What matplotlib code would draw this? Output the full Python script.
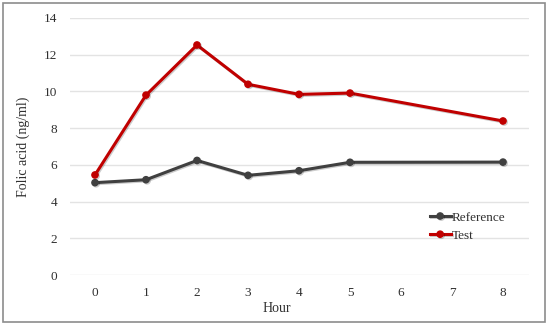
import matplotlib.pyplot as plt
import matplotlib.patheffects as pe
from matplotlib.patches import Rectangle

plt.rcParams['font.family'] = ['Liberation Serif', 'DejaVu Serif']

# Data
hours = [0, 1, 2, 3, 4, 5, 8]
reference = [5.03, 5.19, 6.24, 5.43, 5.68, 6.14, 6.15]
test = [5.45, 9.80, 12.53, 10.39, 9.84, 9.91, 8.39]
xticks = [0, 1, 2, 3, 4, 5, 6, 7, 8]
yticks = [0, 2, 4, 6, 8, 10, 12, 14]

fig = plt.figure(figsize=(5.5, 3.25), dpi=100)
ax = fig.add_axes([69.5 / 550, 50 / 325, 459 / 550, 257 / 325])

shadow = [pe.SimpleLineShadow(offset=(0.8, -0.8), alpha=0.2), pe.Normal()]
ax.plot(hours, reference, color='#404040', lw=2.2, marker='o', ms=4.5,
        label='Reference', path_effects=shadow, zorder=3)
ax.plot(hours, test, color='#C00000', lw=2.2, marker='o', ms=4.5,
        label='Test', path_effects=shadow, zorder=3)

ax.set_xlim(-0.5, 8.5)
ax.set_ylim(0, 14)
ax.set_xticks(xticks)
ax.set_yticks(yticks)
ax.tick_params(length=0, labelsize=9.5, colors='#303030')
ax.tick_params(axis='x', pad=9)
ax.tick_params(axis='y', pad=9)
ax.grid(axis='y', color='#e3e3e3', lw=1)
ax.set_axisbelow(True)
for s in ax.spines.values():
    s.set_visible(False)

ax.set_xlabel('Hour', fontsize=10, color='#303030', labelpad=2)
ax.xaxis.set_label_coords(0.452, -0.105)
ax.set_ylabel('Folic acid (ng/ml)', fontsize=10, color='#303030', labelpad=10)

ax.legend(loc='upper left', bbox_to_anchor=(0.773, 0.268), frameon=False,
          fontsize=9.5, handlelength=1.6, handletextpad=0.1, labelspacing=0.45,
          borderaxespad=0, labelcolor='#303030')

fig.patches.append(Rectangle((3 / 550, 3 / 325), 542 / 550, 319 / 325,
                             transform=fig.transFigure, fill=False,
                             edgecolor='#8c8c8c', lw=1.2))

fig.savefig('out.png', dpi=100)
